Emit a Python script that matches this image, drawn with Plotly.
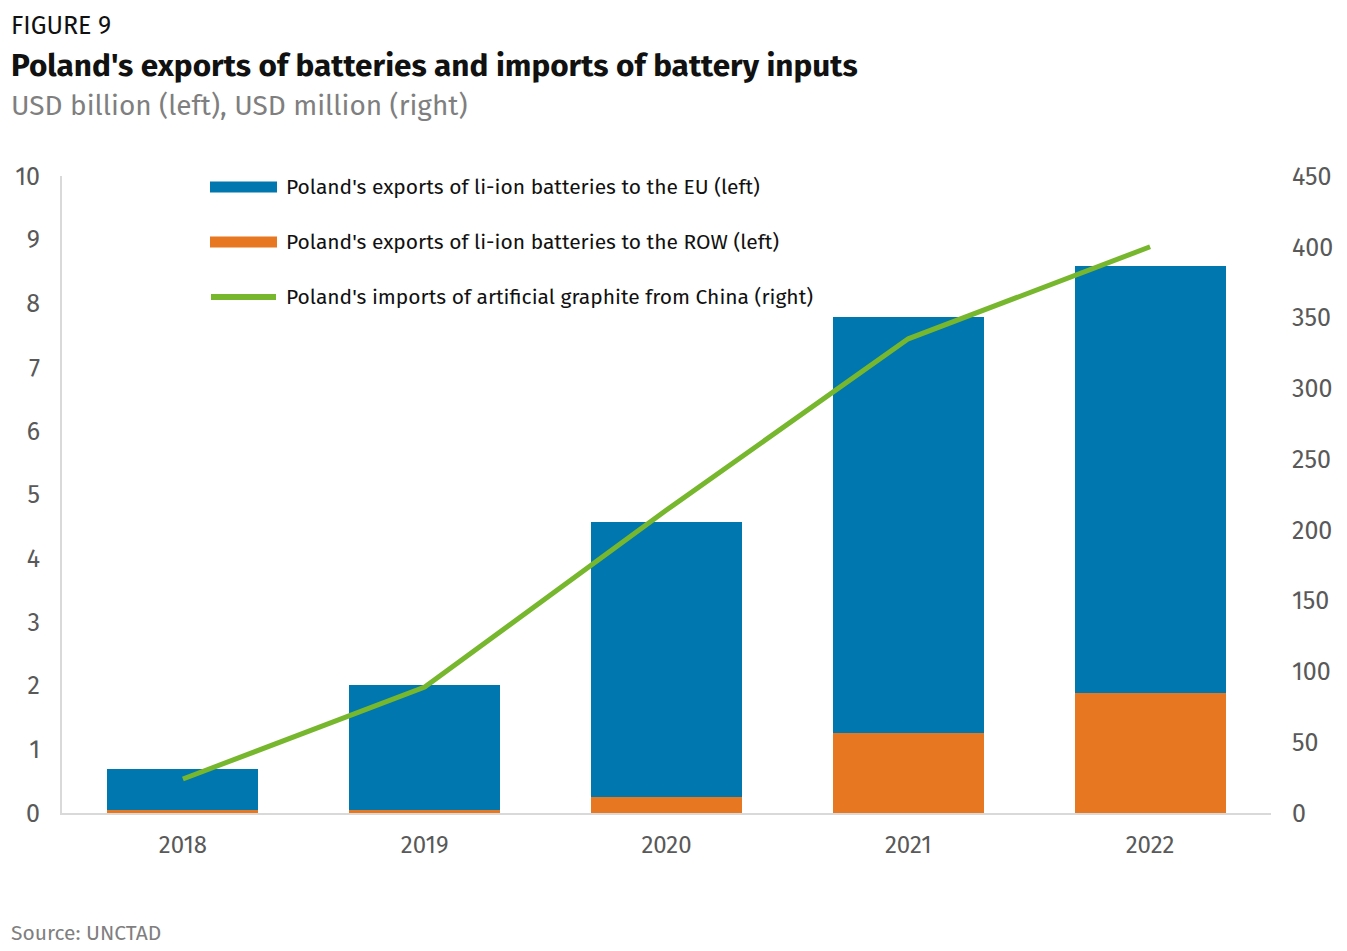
import plotly.graph_objects as go

years = ["2018", "2019", "2020", "2021", "2022"]
eu_exports = [0.65, 1.96, 4.32, 6.53, 6.71]      # USD billion
row_exports = [0.04, 0.05, 0.25, 1.26, 1.88]     # USD billion
graphite_imports = [24, 89, 214, 335, 400]       # USD million

names = [
    "Poland's exports of li-ion batteries to the EU (left)",
    "Poland's exports of li-ion batteries to the ROW (left)",
    "Poland's imports of artificial graphite from China (right)",
]
left_ticks = list(range(0, 11))
right_ticks = list(range(0, 451, 50))

BLUE = "#0077AE"
ORANGE = "#E87722"
GREEN = "#77B72D"
FONT = "Fira Sans, Lato, Noto Sans, sans-serif"

# page geometry (the page body has an 8px margin)
OFF = 8
PX0, PX1, PY0, PY1 = 62, 1271, 176, 813   # plot area in page pixels
W, H = 1347 - OFF, 951 - OFF


def px(x):
    return (x - PX0) / (PX1 - PX0)


def py(y):
    return (PY1 - y) / (PY1 - PY0)


fig = go.Figure()
fig.add_trace(go.Bar(x=years, y=row_exports, name=names[1], marker_color=ORANGE,
                     marker_line_width=0, showlegend=False))
fig.add_trace(go.Bar(x=years, y=eu_exports, name=names[0], marker_color=BLUE,
                     marker_line_width=0, showlegend=False))
fig.add_trace(go.Scatter(x=years, y=graphite_imports, name=names[2], mode="lines",
                         line=dict(color=GREEN, width=5), yaxis="y2", showlegend=False))

# manual legend (wide swatches)
leg_x0, leg_x1, text_x = 210, 277, 284
leg_y = [187, 242, 297]
colors = [BLUE, ORANGE, GREEN]
for i in range(3):
    if i < 2:
        fig.add_shape(type="rect", xref="paper", yref="paper",
                      x0=px(leg_x0), x1=px(leg_x1),
                      y0=py(leg_y[i] + 5.5), y1=py(leg_y[i] - 5.5),
                      fillcolor=colors[i], line_width=0)
    else:
        fig.add_shape(type="line", xref="paper", yref="paper",
                      x0=px(leg_x0 + 1), x1=px(leg_x1 - 1),
                      y0=py(leg_y[i]), y1=py(leg_y[i]),
                      line=dict(color=colors[i], width=6))
    fig.add_annotation(xref="paper", yref="paper", x=px(text_x),
                       y=py(leg_y[i]), text=names[i], showarrow=False,
                       xanchor="left", yanchor="middle",
                       font=dict(family=FONT, size=21, color="#111111"))

# titles
fig.add_annotation(xref="paper", yref="paper", x=px(9), y=py(26),
                   text="FIGURE 9", showarrow=False, xanchor="left", yanchor="middle",
                   font=dict(family=FONT, size=25, color="#111111"))
fig.add_annotation(xref="paper", yref="paper", x=px(9), y=py(65),
                   text="<b>Poland's exports of batteries and imports of battery inputs</b>",
                   showarrow=False, xanchor="left", yanchor="middle",
                   font=dict(family=FONT, size=31.5, color="#111111"))
fig.add_annotation(xref="paper", yref="paper", x=px(9), y=py(105),
                   text="USD billion (left), USD million (right)", showarrow=False,
                   xanchor="left", yanchor="middle",
                   font=dict(family=FONT, size=28, color="#7f7f7f"))
fig.add_annotation(xref="paper", yref="paper", x=px(9), y=py(933),
                   text="Source: UNCTAD", showarrow=False, xanchor="left", yanchor="middle",
                   font=dict(family=FONT, size=21, color="#7f7f7f"))

fig.update_layout(
    width=W, height=H,
    margin=dict(l=PX0 - OFF, r=W - (PX1 - OFF), t=PY0 - OFF, b=H - (PY1 - OFF),
                autoexpand=False),
    barmode="stack", bargap=0.375,
    plot_bgcolor="white", paper_bgcolor="white",
    font=dict(family=FONT, color="#595959", size=24),
    xaxis=dict(type="category", showline=True, linecolor="#d9d9d9", linewidth=2,
               ticks="", tickfont=dict(size=24, color="#595959"), ticklabelstandoff=9),
    yaxis=dict(range=[0, 10], tickvals=left_ticks, showgrid=False, zeroline=False,
               showline=True, linecolor="#d9d9d9", linewidth=2,
               tickfont=dict(size=25, color="#595959"), ticklabelstandoff=15),
    yaxis2=dict(range=[0, 450], tickvals=right_ticks, overlaying="y", side="right",
                showgrid=False, zeroline=False, showline=False,
                tickfont=dict(size=25, color="#595959"), ticklabelstandoff=20),
    showlegend=False,
)

fig.write_html("out.html")
